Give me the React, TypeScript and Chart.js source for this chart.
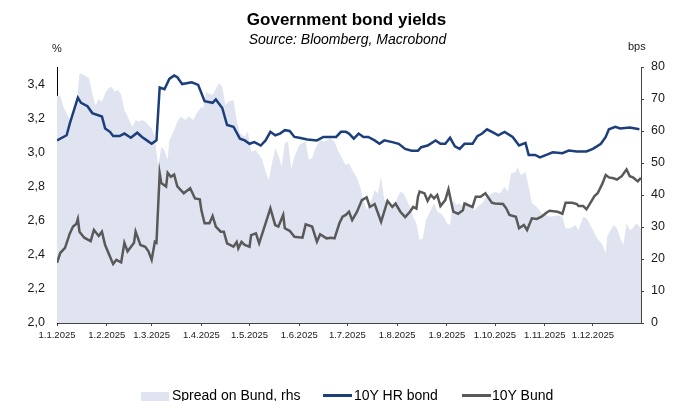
import React, { useEffect, useRef } from "react";
import { Chart, registerables } from "chart.js";
Chart.register(...registerables);

// ---- Data (x = day offset from 1 Jan 2025) ----
const monthStarts = [0, 31, 59, 90, 120, 151, 181, 212, 243, 273, 304, 334];
const monthLabels = ["1.1.2025", "1.2.2025", "1.3.2025", "1.4.2025", "1.5.2025", "1.6.2025", "1.7.2025", "1.8.2025", "1.9.2025", "1.10.2025", "1.11.2025", "1.12.2025"];
const leftTicks = [2.0, 2.2, 2.4, 2.6, 2.8, 3.0, 3.2, 3.4];

const hrDay = [0,6,8,13,15,19,22,28,30,33,35,39,42,46,50,53,56,59,62,64,67,70,73,75,78,84,88,92,97,99,103,106,110,114,117,120,123,127,130,133,136,139,142,145,148,151,156,162,166,171,174,177,180,182,185,188,191,194,198,201,204,209,213,217,221,225,227,231,236,239,242,245,248,251,254,259,262,265,268,272,275,279,284,288,292,294,298,301,305,309,315,319,324,330,334,339,342,344,348,351,357,363];
const hrYield = [3.07,3.10,3.17,3.32,3.29,3.27,3.23,3.21,3.14,3.12,3.095,3.095,3.11,3.085,3.115,3.09,3.07,3.05,3.07,3.38,3.37,3.43,3.45,3.44,3.40,3.41,3.395,3.30,3.29,3.31,3.26,3.16,3.15,3.08,3.07,3.05,3.06,3.04,3.07,3.12,3.10,3.11,3.13,3.125,3.09,3.085,3.075,3.07,3.09,3.09,3.09,3.12,3.12,3.11,3.08,3.11,3.09,3.09,3.07,3.05,3.07,3.06,3.05,3.02,3.01,3.01,3.03,3.04,3.07,3.05,3.05,3.085,3.035,3.02,3.05,3.05,3.095,3.11,3.135,3.115,3.10,3.12,3.09,3.04,3.055,2.985,2.985,2.97,2.985,3.00,2.995,3.01,3.005,3.005,3.02,3.05,3.09,3.135,3.15,3.14,3.145,3.135];

const bundDay = [0,2,5,8,10,12,13,14,17,21,23,26,28,30,33,35,37,40,42,44,48,49,52,55,57,59,61,62,64,65,68,69,71,73,75,79,83,86,89,90,92,95,97,99,102,104,106,110,112,113,115,117,120,121,124,126,130,133,136,138,141,142,145,148,153,155,159,162,164,168,171,173,176,178,180,182,184,187,190,193,195,198,202,206,209,211,214,217,220,222,224,225,226,229,231,233,235,237,239,242,244,247,250,253,254,259,261,264,267,271,273,278,280,282,286,288,291,293,296,299,302,305,307,312,315,317,321,324,325,328,330,332,335,337,340,342,344,347,349,352,355,357,359,362,364];
const bundYield = [2.353,2.41,2.44,2.525,2.565,2.58,2.61,2.535,2.50,2.48,2.545,2.51,2.535,2.457,2.39,2.345,2.37,2.355,2.47,2.42,2.47,2.535,2.457,2.447,2.42,2.37,2.476,2.47,2.877,2.82,2.80,2.88,2.857,2.87,2.80,2.76,2.79,2.73,2.725,2.66,2.584,2.584,2.627,2.565,2.535,2.535,2.467,2.447,2.475,2.437,2.475,2.457,2.447,2.515,2.525,2.467,2.584,2.672,2.574,2.565,2.633,2.555,2.54,2.505,2.50,2.578,2.565,2.476,2.52,2.496,2.50,2.496,2.584,2.623,2.633,2.652,2.603,2.652,2.72,2.736,2.68,2.697,2.593,2.716,2.68,2.70,2.652,2.62,2.652,2.68,2.67,2.74,2.77,2.76,2.716,2.75,2.73,2.75,2.685,2.72,2.783,2.652,2.64,2.66,2.70,2.68,2.74,2.74,2.76,2.705,2.70,2.697,2.672,2.633,2.623,2.555,2.574,2.545,2.613,2.61,2.623,2.646,2.658,2.652,2.64,2.705,2.705,2.697,2.685,2.685,2.666,2.697,2.744,2.76,2.818,2.867,2.853,2.848,2.84,2.86,2.90,2.86,2.853,2.83,2.85];

const spreadDay = [0,2,4,7,9,12,14,17,20,22,24,26,28,30,32,34,36,38,40,42,44,47,49,51,53,55,57,59,61,63,65,67,69,70,73,75,77,80,82,85,87,90,91,93,94,97,101,103,105,107,110,112,114,117,119,121,124,128,130,132,134,136,138,140,142,144,146,148,151,155,157,159,161,164,167,170,173,175,177,180,182,184,187,189,191,193,196,198,200,202,204,207,210,212,214,216,218,220,222,224,226,228,230,233,235,237,239,241,243,245,247,249,251,253,255,257,260,262,265,268,271,273,276,279,281,283,286,287,289,291,292,294,296,299,302,305,308,312,315,317,320,323,325,328,330,333,336,340,342,343,345,347,349,351,353,355,357,359,361,364];
const spreadBps = [71,71,67.6,64.5,63,67.6,78,77.5,76.5,71.8,68,70,69,71.8,73.3,73.8,72.3,72.8,71.3,66.6,64.5,61.3,63.4,62.9,63.4,62.9,61.9,60.8,58.2,48.8,55,54,51,57,60.3,62.9,64.5,63.4,64.5,63.4,65.5,67.6,67,72.3,71.8,71.3,74.9,73.8,68.1,69.2,69.7,63.4,59.3,58.2,59.8,53.5,54,51,47.3,44.7,49.9,54.6,52.5,48.8,56.2,56.7,48.3,52,55.6,56.7,51,51.5,54.6,57.2,56.7,57.7,56.7,54,52,49.4,49.9,47.8,45.2,42.6,38.4,35.3,38.4,41.6,40.5,45.7,38.4,37.4,36.3,39,41,40.5,38.4,36.3,33.2,31.2,25.9,26.5,32.2,35.3,37.4,34.8,34.3,33.2,31.2,30.6,38.4,36.9,37.4,36.3,38.4,36.9,35.3,36.3,37.4,39.5,40.5,41,40.5,42.6,41,46.8,47.3,48.8,46.2,46.8,47.3,42.6,37.4,36.3,34.3,33.7,33.2,33.7,33.2,29.6,29.6,30.6,29.1,33.2,32.7,30.1,27,24.4,21.8,27,29.1,30.6,29.6,26.5,24.4,31.2,29.1,29.6,31.2,29.6];

// ---- Styles ----
const FONT = '"Liberation Sans", Arial, Helvetica, sans-serif';
const HR_COLOR = "#1c3f7c";
const BUND_COLOR = "#595959";
const AREA_COLOR = "#dfe4f0";
const TEXT = "#1a1a1a";

const toPoints = (xs: number[], ys: number[]) => xs.map((x, i) => ({ x, y: ys[i] }));

export default function App() {
  const ref = useRef<HTMLCanvasElement>(null);

  useEffect(() => {
    if (!ref.current) return;
    const chart = new Chart(ref.current, {
      type: "line",
      data: {
        datasets: [
          {
            label: "Spread on Bund, rhs",
            data: toPoints(spreadDay, spreadBps),
            yAxisID: "y2",
            fill: "origin",
            backgroundColor: AREA_COLOR,
            borderWidth: 0,
            pointRadius: 0,
            tension: 0,
            order: 3,
          },
          {
            label: "10Y HR bond",
            data: toPoints(hrDay, hrYield),
            yAxisID: "y",
            borderColor: HR_COLOR,
            borderWidth: 2.5,
            pointRadius: 0,
            fill: false,
            tension: 0,
            order: 1,
          },
          {
            label: "10Y Bund",
            data: toPoints(bundDay, bundYield),
            yAxisID: "y",
            borderColor: BUND_COLOR,
            borderWidth: 2.5,
            pointRadius: 0,
            fill: false,
            tension: 0,
            order: 2,
          },
        ],
      } as any,
      options: {
        responsive: false,
        animation: false,
        layout: { padding: { top: 67, left: 0, right: 0, bottom: 0 } },
        plugins: {
          legend: { display: false },
          title: { display: false },
          tooltip: { enabled: false },
        },
        scales: {
          x: {
            type: "linear",
            min: 0,
            max: 364,
            afterBuildTicks: (s: any) => {
              s.ticks = monthStarts.map((v) => ({ value: v }));
            },
            afterFit: (s: any) => {
              s.height = 78;
            },
            ticks: {
              autoSkip: false,
              maxRotation: 0,
              minRotation: 0,
              padding: 4,
              color: TEXT,
              font: { family: FONT, size: 9.5 },
              callback: (_v: any, i: number) => monthLabels[i] ?? "",
            },
            grid: { drawOnChartArea: false, drawTicks: true, tickLength: 3, color: "#444" },
            border: { display: true, color: "#444", width: 1 },
          },
          y: {
            position: "left",
            min: 2,
            max: 3.5,
            afterBuildTicks: (s: any) => {
              s.ticks = leftTicks.map((v) => ({ value: v }));
            },
            afterFit: (s: any) => {
              s.width = 57;
            },
            ticks: {
              padding: 12,
              color: TEXT,
              font: { family: FONT, size: 12.5 },
              callback: (v: any) => Number(v).toFixed(1).replace(".", ","),
            },
            grid: { drawOnChartArea: false, drawTicks: false },
            border: { display: true, color: "#000", width: 1 },
          },
          y2: {
            position: "right",
            min: 0,
            max: 80,
            afterFit: (s: any) => {
              s.width = 46;
            },
            ticks: {
              stepSize: 10,
              padding: 7,
              color: TEXT,
              font: { family: FONT, size: 12.5 },
            },
            grid: { drawOnChartArea: false, drawTicks: true, tickLength: 3, color: "#444" },
            border: { display: true, color: "#444", width: 1 },
          },
        },
      } as any,
    });
    return () => chart.destroy();
  }, []);

  const abs = (extra: React.CSSProperties): React.CSSProperties => ({
    position: "absolute",
    fontFamily: FONT,
    color: "#000",
    whiteSpace: "nowrap",
    ...extra,
  });

  return (
    <div style={{ position: "absolute", left: 0, top: 0, width: 687, height: 401, overflow: "hidden", background: "#fff" }}>
      <canvas ref={ref} width={687} height={401} style={{ position: "absolute", left: 0, top: 0, width: 687, height: 401 }} />
      <div style={abs({ left: 0, width: 693, top: 11, textAlign: "center", fontWeight: "bold", fontSize: 17, lineHeight: "17px" })}>
        Government bond yields
      </div>
      <div style={abs({ left: 0, width: 695, top: 31.5, textAlign: "center", fontStyle: "italic", fontSize: 14, lineHeight: "14px" })}>
        Source: Bloomberg, Macrobond
      </div>
      <div style={abs({ left: 52, top: 43, fontSize: 11, lineHeight: "11px", color: TEXT })}>%</div>
      <div style={abs({ left: 628, top: 41, fontSize: 11, lineHeight: "11px", color: TEXT })}>bps</div>

      <div style={abs({ left: 141, top: 392, width: 28, height: 9, background: AREA_COLOR })} />
      <div style={abs({ left: 172, top: 388, fontSize: 14, lineHeight: "14px" })}>Spread on Bund, rhs</div>
      <div style={abs({ left: 323, top: 394, width: 29, height: 2.5, background: HR_COLOR })} />
      <div style={abs({ left: 354, top: 388, fontSize: 14, lineHeight: "14px" })}>10Y HR bond</div>
      <div style={abs({ left: 462, top: 394, width: 29, height: 2.5, background: BUND_COLOR })} />
      <div style={abs({ left: 492, top: 388, fontSize: 14, lineHeight: "14px" })}>10Y Bund</div>
    </div>
  );
}
